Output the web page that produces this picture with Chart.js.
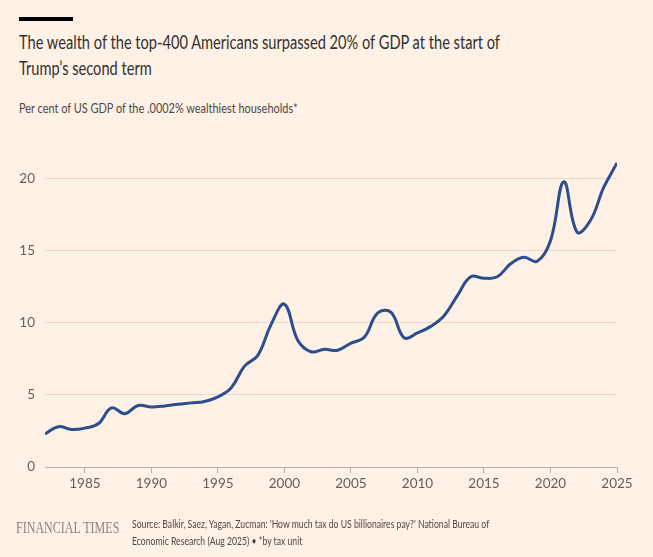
<!DOCTYPE html>
<html>
<head>
<meta charset="utf-8">
<script src="https://cdn.jsdelivr.net/npm/chart.js@4"></script>
<style>
  html, body { margin: 0; padding: 0; background: #fff1e5; }
  body { width: 653px; height: 557px; position: relative; overflow: hidden; font-family: Lato, "Open Sans", sans-serif; color: #33302e; }
  #bar { position: absolute; left: 19px; top: 17px; width: 54px; height: 4px; background: #000; }
  #title { position: absolute; left: 19px; top: 29px; font-size: 18.5px; line-height: 26px; white-space: nowrap; transform: scaleX(0.79); transform-origin: left top; }
  #subtitle { position: absolute; left: 19px; top: 100px; font-size: 13.5px; color: #4d4845; white-space: nowrap; transform: scaleX(0.81); transform-origin: left top; }
  #chart { position: absolute; left: 0; top: 0; }
  #ft { position: absolute; left: 16px; top: 518px; font-family: "Liberation Serif", "DejaVu Serif", serif; font-size: 16.5px; color: #8c8480; white-space: nowrap; transform: scaleX(0.73); transform-origin: left top; }
  #source { position: absolute; left: 132px; top: 515px; font-size: 12px; line-height: 17px; color: #4d4845; white-space: nowrap; transform: scaleX(0.72); transform-origin: left top; }
</style>
</head>
<body>
<div id="bar"></div>
<div id="title">The wealth of the top-400 Americans surpassed 20% of GDP at the start of<br>Trump’s second term</div>
<div id="subtitle">Per cent of US GDP of the .0002% wealthiest households*</div>
<canvas id="chart" width="653" height="557"></canvas>
<div id="ft">FINANCIAL TIMES</div>
<div id="source">Source: Balkir, Saez, Yagan, Zucman: 'How much tax do US billionaires pay?' National Bureau of<br>Economic Research (Aug 2025) • *by tax unit</div>
<script>
// Wealth of top-400 as % of US GDP
const years = [1982, 1983, 1984, 1985, 1986, 1987, 1988, 1989, 1990, 1991,
  1992, 1993, 1994, 1995, 1996, 1997, 1998, 1999, 2000, 2001,
  2002, 2003, 2004, 2005, 2006, 2007, 2008, 2009, 2010, 2011,
  2012, 2013, 2014, 2015, 2016, 2017, 2018, 2019, 2020, 2021,
  2022, 2023, 2024, 2025];
const shareOfGdp = [2.3, 2.8, 2.6, 2.7, 3.0, 4.1, 3.7, 4.27, 4.17, 4.24,
  4.36, 4.45, 4.55, 4.87, 5.5, 7.0, 7.75, 9.9, 11.3, 8.8,
  8.0, 8.17, 8.1, 8.6, 9.0, 10.68, 10.75, 8.97, 9.3, 9.76,
  10.5, 11.9, 13.2, 13.1, 13.2, 14.1, 14.55, 14.28, 15.7, 19.8,
  16.3, 17.1, 19.4, 21.1];
const yTicks = [0, 5, 10, 15, 20];
const xTicks = [1985, 1990, 1995, 2000, 2005, 2010, 2015, 2020, 2025];

const points = years.map((yr, i) => ({ x: yr, y: shareOfGdp[i] }));

new Chart(document.getElementById("chart"), {
  type: "line",
  data: {
    datasets: [{
      data: points,
      borderColor: "#2b4f8e",
      borderWidth: 3,
      pointRadius: 0,
      tension: 0.4,
      fill: false
    }]
  },
  options: {
    responsive: false,
    animation: false,
    layout: { padding: { left: 0, right: 36, top: 150, bottom: 60 } },
    plugins: { legend: { display: false }, tooltip: { enabled: false } },
    scales: {
      x: {
        type: "linear",
        min: 1982,
        max: 2025,
        afterFit: s => { s.height = 30; },
        afterBuildTicks: s => { s.ticks = xTicks.map(v => ({ value: v })); },
        grid: { display: true, drawOnChartArea: false, drawTicks: true, tickLength: 6, color: "#b8aea6" },
        border: { display: true, color: "#b8aea6", width: 1 },
        ticks: {
          color: "#66605c",
          font: { family: "Lato", size: 13.5 },
          padding: 3,
          maxRotation: 0,
          callback: v => String(v)
        }
      },
      y: {
        min: 0,
        max: 22,
        afterFit: s => { s.width = 45; },
        afterBuildTicks: s => { s.ticks = yTicks.map(v => ({ value: v })); },
        grid: { color: "#e6d9ce", drawTicks: false, lineWidth: 1 },
        border: { display: false },
        ticks: {
          color: "#66605c",
          font: { family: "Lato", size: 13.5 },
          padding: 10
        }
      }
    }
  }
});
</script>
</body>
</html>
